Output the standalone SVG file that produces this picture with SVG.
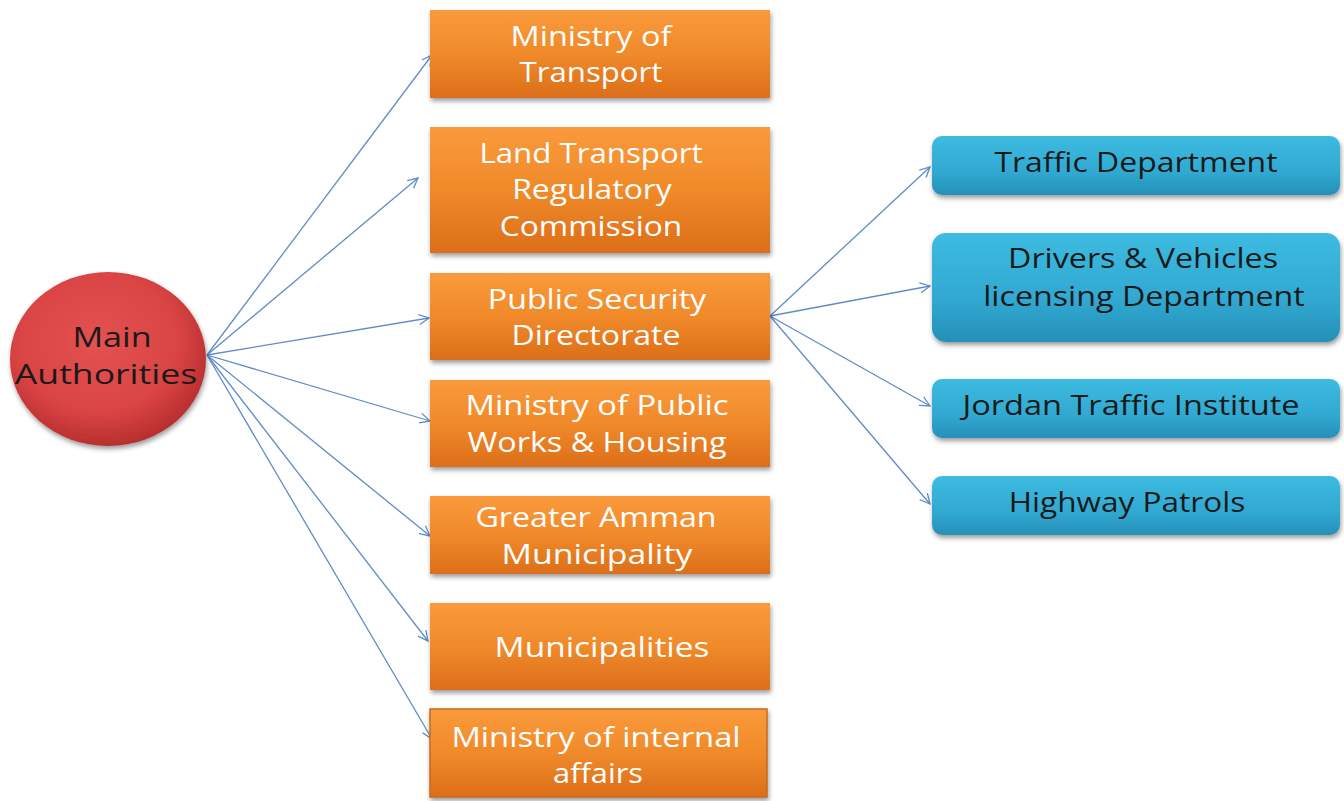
<svg xmlns="http://www.w3.org/2000/svg" width="1344" height="801" viewBox="0 0 1344 801">
<style>
.t{font-family:"Open Sans","Liberation Sans",sans-serif;font-size:27px;text-anchor:middle}
.w{fill:#ffffff}
.d{fill:#1a1a1a}
.c{fill:none;stroke:#5f8cc8;stroke-width:1.3;marker-end:url(#ah)}
</style>
<defs>
<linearGradient id="og" x1="0" y1="0" x2="0" y2="1">
<stop offset="0" stop-color="#fa9a3c"/>
<stop offset="0.5" stop-color="#f08a2a"/>
<stop offset="1" stop-color="#dc6e1a"/>
</linearGradient>
<linearGradient id="bg" x1="0" y1="0" x2="0" y2="1">
<stop offset="0" stop-color="#3dbbe0"/>
<stop offset="0.6" stop-color="#31a9d2"/>
<stop offset="1" stop-color="#2590b8"/>
</linearGradient>
<radialGradient id="rg" cx="0.45" cy="0.4" r="0.6">
<stop offset="0" stop-color="#e45252"/>
<stop offset="0.7" stop-color="#d94343"/>
<stop offset="1" stop-color="#b82f2f"/>
</radialGradient>
<filter id="sh" x="-10%" y="-10%" width="125%" height="130%">
<feGaussianBlur in="SourceAlpha" stdDeviation="2.5"/>
<feOffset dx="1" dy="3" result="b"/>
<feComponentTransfer><feFuncA type="linear" slope="0.4"/></feComponentTransfer>
<feMerge><feMergeNode/><feMergeNode in="SourceGraphic"/></feMerge>
</filter>
<marker id="ah" markerWidth="12" markerHeight="12" refX="11" refY="6" orient="auto" markerUnits="userSpaceOnUse">
<path d="M1,1 L11,6 L1,11" fill="none" stroke="#5f8cc8" stroke-width="1.3"/>
</marker>
</defs>
<rect width="1344" height="801" fill="#ffffff"/>
<g id="connectors">
<line class="c" x1="207" y1="355" x2="432" y2="55"/>
<line class="c" x1="207" y1="355" x2="418" y2="178"/>
<line class="c" x1="207" y1="355" x2="429" y2="318"/>
<line class="c" x1="207" y1="355" x2="430" y2="421"/>
<line class="c" x1="207" y1="355" x2="430" y2="536"/>
<line class="c" x1="207" y1="355" x2="428" y2="641"/>
<line class="c" x1="207" y1="355" x2="432" y2="739"/>
<line class="c" x1="770" y1="316" x2="930" y2="167"/>
<line class="c" x1="770" y1="316" x2="930" y2="286"/>
<line class="c" x1="770" y1="316" x2="930" y2="406"/>
<line class="c" x1="770" y1="316" x2="930" y2="504"/>
</g>
<g id="main">
<ellipse cx="108" cy="359" rx="98" ry="87" fill="url(#rg)" filter="url(#sh)"/>
<text class="t d" transform="translate(112,347) scale(1.2,1)" textLength="66" lengthAdjust="spacingAndGlyphs">Main</text>
<text class="t d" transform="translate(106,384) scale(1.2,1)" textLength="152" lengthAdjust="spacingAndGlyphs">Authorities</text>
</g>
<g id="o1">
<rect x="430" y="10" width="340" height="88" fill="url(#og)" filter="url(#sh)"/>
<text class="t w" transform="translate(591,46) scale(1.2,1)" textLength="134" lengthAdjust="spacingAndGlyphs">Ministry of</text>
<text class="t w" transform="translate(591,82) scale(1.2,1)" textLength="119" lengthAdjust="spacingAndGlyphs">Transport</text>
</g>
<g id="o2">
<rect x="430" y="127" width="340" height="126" fill="url(#og)" filter="url(#sh)"/>
<text class="t w" transform="translate(591,163) scale(1.2,1)" textLength="186" lengthAdjust="spacingAndGlyphs">Land Transport</text>
<text class="t w" transform="translate(592,199) scale(1.2,1)" textLength="133" lengthAdjust="spacingAndGlyphs">Regulatory</text>
<text class="t w" transform="translate(591,236) scale(1.2,1)" textLength="152" lengthAdjust="spacingAndGlyphs">Commission</text>
</g>
<g id="o3">
<rect x="430" y="273" width="340" height="87" fill="url(#og)" filter="url(#sh)"/>
<text class="t w" transform="translate(597,309) scale(1.2,1)" textLength="182" lengthAdjust="spacingAndGlyphs">Public Security</text>
<text class="t w" transform="translate(596,345) scale(1.2,1)" textLength="141" lengthAdjust="spacingAndGlyphs">Directorate</text>
</g>
<g id="o4">
<rect x="430" y="380" width="340" height="87" fill="url(#og)" filter="url(#sh)"/>
<text class="t w" transform="translate(597,415) scale(1.2,1)" textLength="219" lengthAdjust="spacingAndGlyphs">Ministry of Public</text>
<text class="t w" transform="translate(597,452) scale(1.2,1)" textLength="216" lengthAdjust="spacingAndGlyphs">Works &amp; Housing</text>
</g>
<g id="o5">
<rect x="430" y="496" width="340" height="78" fill="url(#og)" filter="url(#sh)"/>
<text class="t w" transform="translate(596,527) scale(1.2,1)" textLength="201" lengthAdjust="spacingAndGlyphs">Greater Amman</text>
<text class="t w" transform="translate(597,564) scale(1.2,1)" textLength="159" lengthAdjust="spacingAndGlyphs">Municipality</text>
</g>
<g id="o6">
<rect x="430" y="603" width="340" height="87" fill="url(#og)" filter="url(#sh)"/>
<text class="t w" transform="translate(602,657) scale(1.2,1)" textLength="179" lengthAdjust="spacingAndGlyphs">Municipalities</text>
</g>
<g id="o7">
<rect x="430" y="709" width="337" height="88" fill="url(#og)" stroke="#c8691e" stroke-width="1.5" filter="url(#sh)"/>
<text class="t w" transform="translate(596,747) scale(1.2,1)" textLength="241" lengthAdjust="spacingAndGlyphs">Ministry of internal</text>
<text class="t w" transform="translate(598,783) scale(1.2,1)" textLength="75" lengthAdjust="spacingAndGlyphs">affairs</text>
</g>
<g id="b1">
<rect x="932" y="136" width="408" height="59" rx="10" fill="url(#bg)" filter="url(#sh)"/>
<text class="t d" transform="translate(1136,172) scale(1.2,1)" textLength="236" lengthAdjust="spacingAndGlyphs">Traffic Department</text>
</g>
<g id="b2">
<rect x="932" y="233" width="408" height="109" rx="14" fill="url(#bg)" filter="url(#sh)"/>
<text class="t d" transform="translate(1143,268) scale(1.2,1)" textLength="225" lengthAdjust="spacingAndGlyphs">Drivers &amp; Vehicles</text>
<text class="t d" transform="translate(1144,306) scale(1.2,1)" textLength="268" lengthAdjust="spacingAndGlyphs">licensing Department</text>
</g>
<g id="b3">
<rect x="932" y="379" width="408" height="59" rx="10" fill="url(#bg)" filter="url(#sh)"/>
<text class="t d" transform="translate(1131,415) scale(1.2,1)" textLength="281" lengthAdjust="spacingAndGlyphs">Jordan Traffic Institute</text>
</g>
<g id="b4">
<rect x="932" y="476" width="408" height="59" rx="10" fill="url(#bg)" filter="url(#sh)"/>
<text class="t d" transform="translate(1127,512) scale(1.2,1)" textLength="197" lengthAdjust="spacingAndGlyphs">Highway Patrols</text>
</g>
</svg>
